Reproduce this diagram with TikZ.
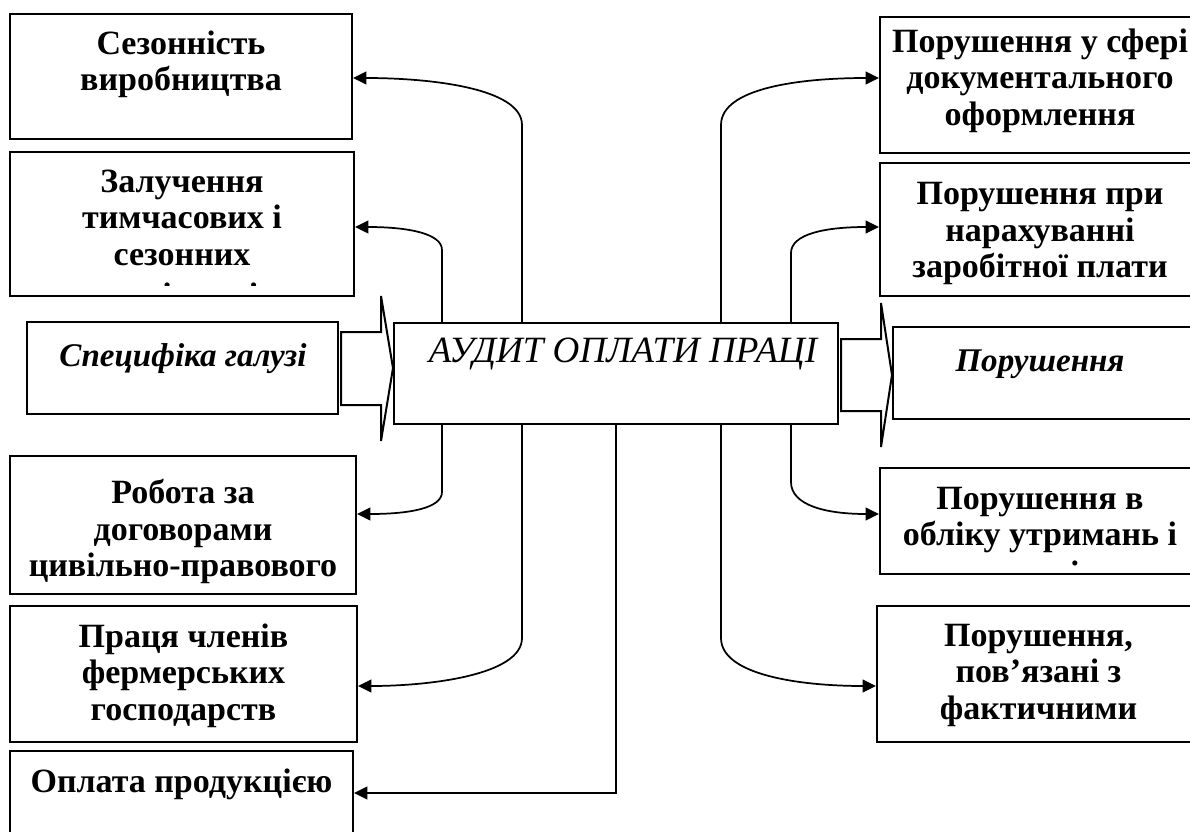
\documentclass[tikz,border=0pt]{standalone}
\usepackage{fontspec}
\setmainfont{Liberation Serif}
\usetikzlibrary{arrows.meta,calc,fit}
\setlength{\lineskiplimit}{-50pt}
\begin{document}
\begin{tikzpicture}[x=0.75pt,y=-0.75pt,
  box/.style={draw, line width=1.5pt, inner sep=0pt},
  ltxt/.style={anchor=north, align=center, inner sep=0pt,
    font=\fontsize{25.5}{27.4}\selectfont\bfseries},
  btxt/.style={anchor=base, inner sep=0pt,
    font=\fontsize{25.5}{27.4}\selectfont\bfseries},
  itxt/.style={anchor=base, inner sep=0pt,
    font=\fontsize{24.8}{27.4}\selectfont\bfseries\itshape},
  ctxt/.style={anchor=base, inner sep=0pt,
    font=\fontsize{27.8}{30}\selectfont\itshape},
  arr/.style={line width=1.3pt, -{Triangle[length=10pt,width=9.5pt]}},
  blk/.style={line width=1.5pt, fill=white, line join=miter}
]
\useasboundingbox (0,0) rectangle (1190,832);

% left boxes
\node[box, fit={(10,14) (352,139)}] (b1) {};
\node[box, fit={(10,152) (354,296)}] (b2) {};
\node[box, fit={(27,322) (338,414)}] (b3) {};
\node[box, fit={(10,456) (356,594)}] (b4) {};
\node[box, fit={(10,606) (357,742)}] (b5) {};
\node[box, fit={(10,751) (353,850)}] (b6) {};

% centre
\node[box, fit={(394,323) (838,424)}] (ctr) {};

% right boxes
\node[box, fit={(880,17) (1200,153)}] (r1) {};
\node[box, fit={(880,163) (1200,296)}] (r2) {};
\node[box, fit={(893,327) (1200,419)}] (r3) {};
\node[box, fit={(880,468) (1200,574)}] (r4) {};
\node[box, fit={(877,606) (1200,742)}] (r5) {};

% texts
\node[ltxt] (t1) at ($(b1.north)+(0,15.4)$) {\strut Сезонність\\виробництва};
\node[ltxt] (t2) at ($(b2.north)+(0,15.4)$) {\strut Залучення\\тимчасових і\\сезонних};
\begin{scope}
\clip (10,152) rectangle (354,285.5);
\node[btxt] (t2b) at (182,306) {працівників};
\end{scope}
\node[itxt] (t3) at (183,366) {Специфіка галузі};
\node[ltxt] (t4) at ($(b4.north)+(0,23)$) {\strut Робота за\\договорами\\цивільно-правового};
\node[ltxt] (t5) at ($(b5.north)+(0,16.4)$) {\strut Праця членів\\фермерських\\господарств};
\node[ltxt] (t6) at ($(b6.north)+(0,16.4)$) {\strut Оплата продукцією};

\node[ctxt] (tc) at (623,362) {АУДИТ ОПЛАТИ ПРАЦІ};

\node[ltxt] (s1) at ($(r1.north)+(0,10.4)$) {\strut Порушення у сфері\\документального\\оформлення};
\node[ltxt] (s2) at ($(r2.north)+(0,17)$) {\strut Порушення при\\нарахуванні\\заробітної плати};
\node[itxt] (s3) at (1040,371) {Порушення};
\node[ltxt] (s4) at ($(r4.north)+(0,16.4)$) {\strut Порушення в\\обліку утримань і};
\begin{scope}
\clip (880,468) rectangle (1200,566.5);
\node[btxt] (s4b) at (1040,584) {внесків};
\end{scope}
\node[ltxt] (s5) at ($(r5.north)+(0,15.4)$) {\strut Порушення,\\пов’язані з\\фактичними};

% block arrows
\draw[blk] (341,332) -- (381,332) -- (381,296) -- (ctr.west |- 0,368) -- (381,441) -- (381,405) -- (341,405) -- cycle;
\draw[blk] (841,339) -- (881,339) -- (881,303) -- (r3.west |- 0,375) -- (881,447) -- (881,411) -- (841,411) -- cycle;

% connector columns
\coordinate (xa) at (442,0);
\coordinate (xb) at (522,0);
\coordinate (xc) at (616,0);
\coordinate (xd) at (721,0);
\coordinate (xe) at (791,0);

% left connectors
\draw[arr] (ctr.north -| xb) -- (522,125) .. controls (522,88) and (430,78) .. (b1.east |- 0,78);
\draw[arr] (ctr.north -| xa) -- (442,250) .. controls (442,234) and (410,227) .. (b2.east |- 0,227);
\draw[arr] (ctr.south -| xa) -- (442,492) .. controls (442,508) and (410,514) .. (b4.east |- 0,514);
\draw[arr] (ctr.south -| xb) -- (522,638) .. controls (522,675) and (430,686) .. (b5.east |- 0,686);
\draw[arr] (ctr.south -| xc) -- (616,793) -- (b6.east |- 0,793);

% right connectors
\draw[arr] (ctr.north -| xd) -- (721,125) .. controls (721,88) and (800,78) .. (r1.west |- 0,78);
\draw[arr] (ctr.north -| xe) -- (791,253) .. controls (791,234) and (825,227) .. (r2.west |- 0,227);
\draw[arr] (ctr.south -| xe) -- (791,482) .. controls (791,505) and (825,514) .. (r4.west |- 0,514);
\draw[arr] (ctr.south -| xd) -- (721,638) .. controls (721,675) and (800,686) .. (r5.west |- 0,686);
\end{tikzpicture}
\end{document}
